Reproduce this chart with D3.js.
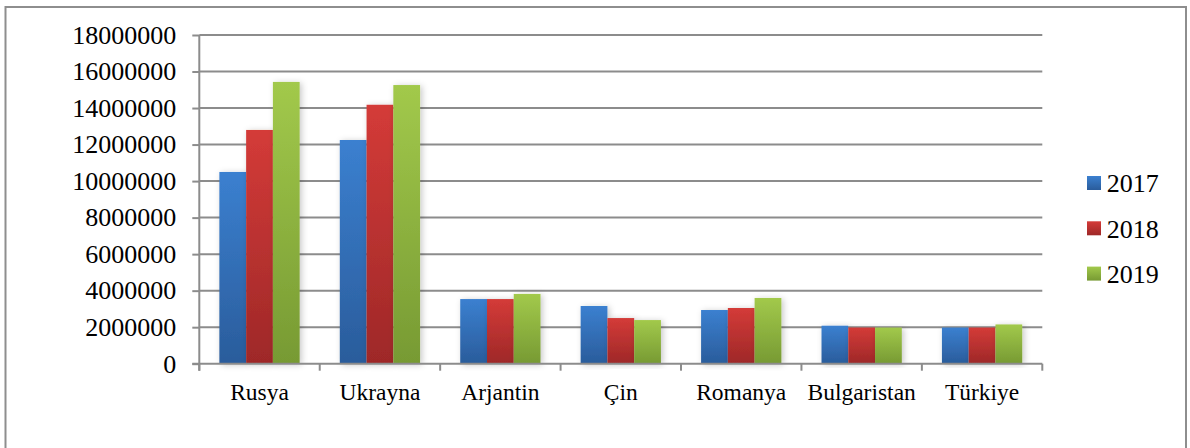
<!DOCTYPE html>
<html>
<head>
<meta charset="utf-8">
<script src="https://cdn.jsdelivr.net/npm/d3@7"></script>
<style>
  html, body { margin: 0; padding: 0; background: #fff; }
  svg { display: block; }
  text { font-family: "Liberation Serif", "Times New Roman", serif; fill: #000; }
</style>
</head>
<body>
<svg id="chart" width="1190" height="448"></svg>
<script>
// Production by country, 2017–2019
const categories = ["Rusya", "Ukrayna", "Arjantin", "Çin", "Romanya", "Bulgaristan", "Türkiye"];
const years = ["2017", "2018", "2019"];
const values2017 = [10500000, 12250000, 3540000, 3160000, 2940000, 2080000, 1980000];
const values2018 = [12800000, 14180000, 3540000, 2500000, 3050000, 1980000, 1980000];
const values2019 = [15430000, 15260000, 3820000, 2390000, 3600000, 1980000, 2150000];
const yTicks = [0, 2000000, 4000000, 6000000, 8000000, 10000000, 12000000, 14000000, 16000000, 18000000];

const seriesValues = [values2017, values2018, values2019];
const colors = [
  { top: "#3b80d0", bottom: "#2a5c9b" },
  { top: "#d43b38", bottom: "#9e2828" },
  { top: "#a2c94b", bottom: "#779a33" }
];

const svg = d3.select("#chart");
const plot = { left: 199.3, right: 1042.3, top: 35, bottom: 363.7 };
const gridColor = "#8c8c8c";

// outer frame
svg.append("rect")
  .attr("x", 5.5).attr("y", 7).attr("width", 1180.5).attr("height", 460)
  .attr("fill", "none").attr("stroke", "#8e8e8e").attr("stroke-width", 2);

const defs = svg.append("defs");
colors.forEach((c, i) => {
  const g = defs.append("linearGradient").attr("id", "grad" + i)
    .attr("x1", 0).attr("y1", 0).attr("x2", 0).attr("y2", 1);
  g.append("stop").attr("offset", "0%").attr("stop-color", c.top);
  g.append("stop").attr("offset", "100%").attr("stop-color", c.bottom);
});
const shadow = defs.append("filter").attr("id", "shadow")
  .attr("x", "-30%").attr("y", "-10%").attr("width", "160%").attr("height", "120%");
shadow.append("feDropShadow").attr("dx", 2).attr("dy", 1).attr("stdDeviation", 3)
  .attr("flood-color", "#000").attr("flood-opacity", 0.22);

const y = d3.scaleLinear().domain([0, 18000000]).range([plot.bottom, plot.top]);
const x0 = d3.scaleBand().domain(categories).range([plot.left, plot.right]).paddingInner(0).paddingOuter(0);
const x1 = d3.scaleBand().domain(years).range([0, x0.bandwidth()]).paddingInner(0).paddingOuter(0.75);

// gridlines
svg.append("g").selectAll("line").data(yTicks.filter(t => t > 0)).join("line")
  .attr("x1", plot.left).attr("x2", plot.right)
  .attr("y1", d => y(d)).attr("y2", d => y(d))
  .attr("stroke", gridColor).attr("stroke-width", 2);

// bars
const groups = svg.append("g").selectAll("g").data(categories).join("g")
  .attr("transform", d => `translate(${x0(d)},0)`);
groups.selectAll("rect")
  .data((d, ci) => years.map((yr, si) => ({ yr, si, v: seriesValues[si][ci] })))
  .join("rect")
  .attr("x", d => x1(d.yr))
  .attr("y", d => y(d.v))
  .attr("width", x1.bandwidth())
  .attr("height", d => y(0) - y(d.v))
  .attr("fill", d => `url(#grad${d.si})`)
  .attr("filter", "url(#shadow)");

// y axis
const yAxis = d3.axisLeft(y).tickValues(yTicks).tickFormat(d3.format("d")).tickSize(7).tickPadding(16);
const yG = svg.append("g").attr("transform", `translate(${plot.left},0)`).call(yAxis);
yG.attr("font-family", null);
yG.select(".domain").remove();
yG.selectAll(".tick line").attr("stroke", gridColor).attr("stroke-width", 2);
yG.selectAll(".tick text").style("font-size", "26px").attr("fill", "#000");
svg.append("line").attr("x1", plot.left).attr("x2", plot.left)
  .attr("y1", plot.top).attr("y2", plot.bottom + 7)
  .attr("stroke", gridColor).attr("stroke-width", 2);

// x axis
svg.append("line").attr("x1", plot.left - 7).attr("x2", plot.right)
  .attr("y1", plot.bottom).attr("y2", plot.bottom)
  .attr("stroke", gridColor).attr("stroke-width", 2);
const boundaries = categories.map(c => x0(c)).concat([plot.right]);
svg.append("g").selectAll("line").data(boundaries).join("line")
  .attr("x1", d => d).attr("x2", d => d)
  .attr("y1", plot.bottom).attr("y2", plot.bottom + 7)
  .attr("stroke", gridColor).attr("stroke-width", 2);
svg.append("g").selectAll("text").data(categories).join("text")
  .attr("x", d => x0(d) + x0.bandwidth() / 2)
  .attr("y", 400)
  .attr("text-anchor", "middle")
  .style("font-size", "23.5px")
  .text(d => d);

// legend
const legend = svg.append("g").selectAll("g").data(years).join("g")
  .attr("transform", (d, i) => `translate(1087,${176 + i * 45.3})`);
legend.append("rect").attr("width", 14).attr("height", 14)
  .attr("fill", (d, i) => `url(#grad${i})`);
legend.append("text").attr("x", 19.7).attr("y", 16.3)
  .style("font-size", "26px").text(d => d);
</script>
</body>
</html>
